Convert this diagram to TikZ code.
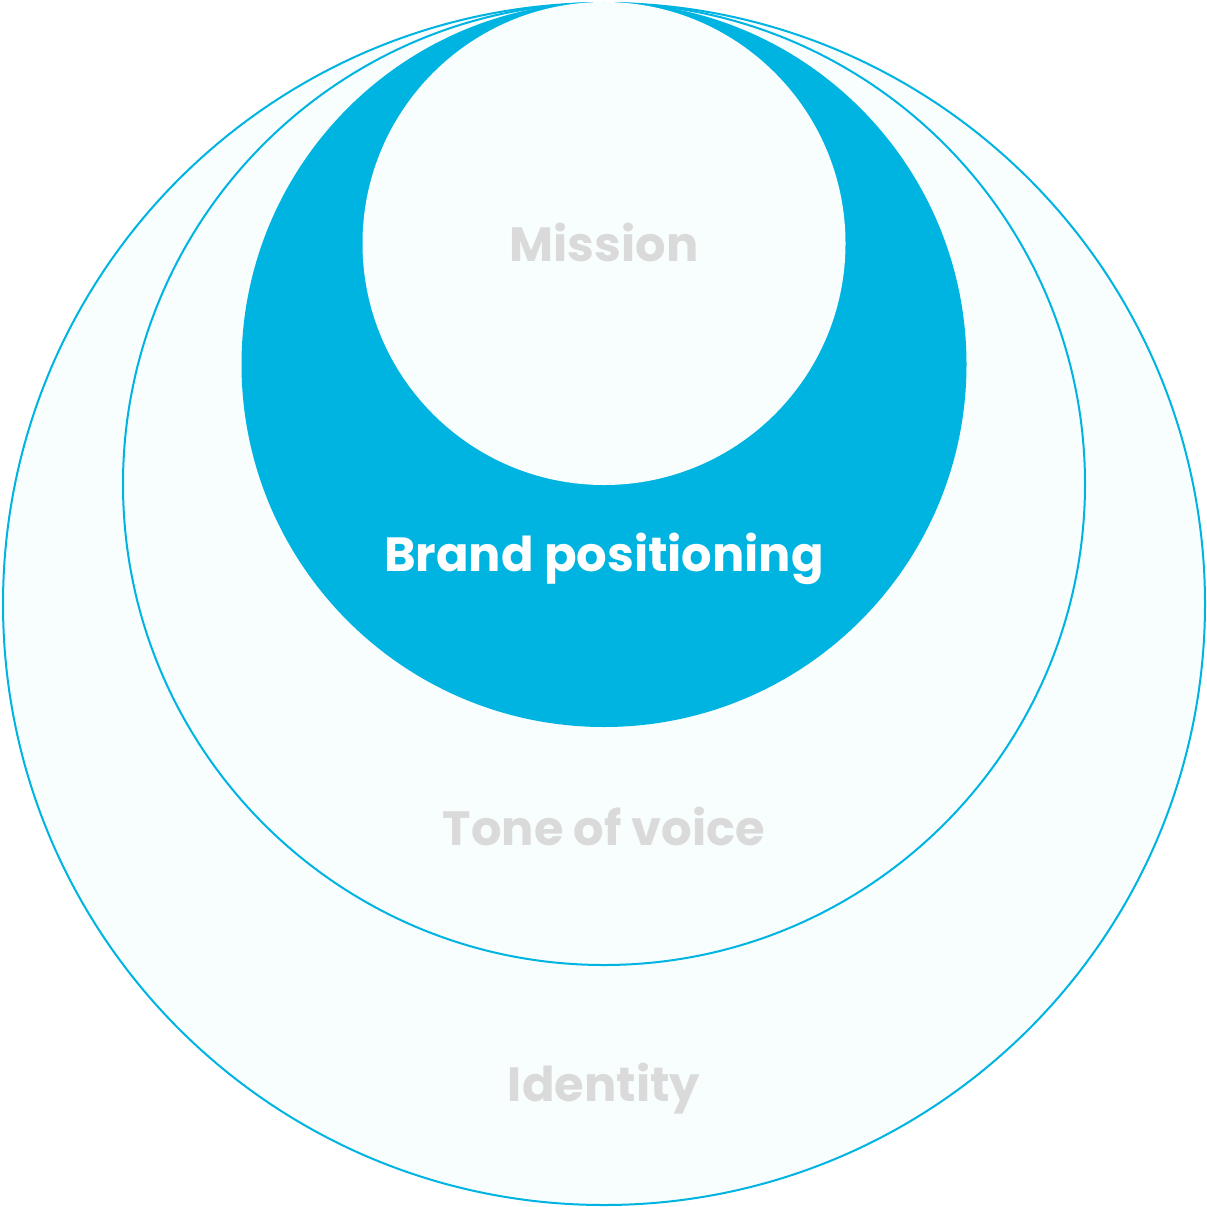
\documentclass[tikz,border=0pt]{standalone}
\usepackage{fontspec}
\setmainfont{Poppins}
\usetikzlibrary{positioning}
\definecolor{ringblue}{HTML}{00B4E2}
\definecolor{ringfill}{HTML}{F8FDFE}
\definecolor{labelgrey}{HTML}{DADADA}
\tikzstyle{every node}=[font=\fontsize{48}{54}\selectfont\bfseries]
\tikzstyle{ring} = [circle, inner sep=0pt, draw=ringblue, line width=2pt, fill=ringfill]
\tikzstyle{core} = [circle, inner sep=0pt, draw=ringblue, line width=2pt, fill=ringblue]
\tikzstyle{label} = [anchor=base, text=labelgrey, inner sep=0pt]

\begin{document}
\begin{tikzpicture}[x=1pt, y=-1pt]
        \useasboundingbox (0,0) rectangle (1207,1207);
        \node (identity) [ring, minimum size=1202pt] at (604,604) {};
          \node (tone) [ring, minimum size=962pt] at (604,484) {};
            \node (brand) [core, minimum size=723pt] at (604,364.5) {};
              \node (mission) [ring, draw=ringfill, minimum size=481pt] at (604,243.5) {};

        \node (missiontxt) [label] at (604,261) {Mission};
        \node (brandtxt) [label, text=white] at (604,571) {Brand positioning};
        \node (tonetxt) [label] at (604,845) {Tone of voice};
        \node (identitytxt) [label] at (604,1101) {Identity};
      \end{tikzpicture}
\end{document}
